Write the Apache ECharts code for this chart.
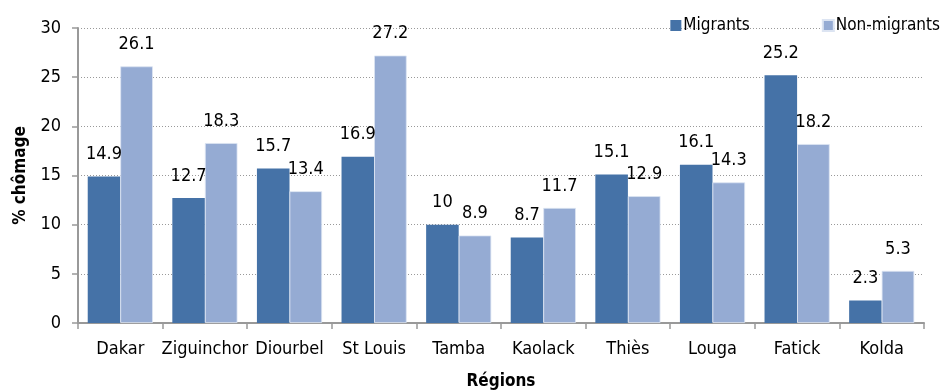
<!DOCTYPE html>
<html><head><meta charset="utf-8">
<script src="https://cdn.jsdelivr.net/npm/echarts@6/dist/echarts.min.js"></script>
<style>html,body{margin:0;padding:0;background:#fff}#c{width:947px;height:390px}</style>
</head><body><div id="c"></div>
<script>
const categories = ['Dakar','Ziguinchor','Diourbel','St Louis','Tamba','Kaolack','Thiès','Louga','Fatick','Kolda'];
const migrants = [14.9,12.7,15.7,16.9,10,8.7,15.1,16.1,25.2,2.3];
const nonMigrants = [26.1,18.3,13.4,27.2,8.9,11.7,12.9,14.3,18.2,5.3];
const seriesNames = ['Migrants','Non-migrants'];
const yTicks = {min:0,max:30,interval:5};
const FONT = '"DejaVu Sans Condensed","Liberation Sans Narrow","Liberation Sans",Arial,sans-serif';
const chart = echarts.init(document.getElementById('c'), null, {renderer:'canvas'});
chart.setOption({
  animation:false,
  textStyle:{fontFamily:FONT},
  grid:{left:78,right:23,top:28,bottom:67,containLabel:false,outerBoundsMode:'none'},
  legend:{
    data:seriesNames, right:2, top:12, itemWidth:11, itemHeight:11, itemGap:72,
    icon:'rect',
    textStyle:{fontFamily:FONT,fontSize:17,color:'#000',padding:[0,0,0,-3]}
  },
  xAxis:{
    type:'category', data:categories,
    name:'Régions', nameLocation:'middle', nameGap:50,
    nameTextStyle:{fontFamily:FONT,fontSize:17,fontWeight:'bold',color:'#000'},
    axisLine:{lineStyle:{color:'#999',width:2}},
    axisTick:{show:true,length:6,lineStyle:{color:'#999',width:1.5}},
    axisLabel:{interval:0,fontFamily:FONT,fontSize:18,color:'#000',margin:17}
  },
  yAxis:{
    type:'value', min:yTicks.min, max:yTicks.max, interval:yTicks.interval,
    name:'% chômage', nameLocation:'middle', nameGap:45, nameRotate:90,
    nameTextStyle:{fontFamily:FONT,fontSize:17,fontWeight:'bold',color:'#000'},
    axisLine:{show:true,lineStyle:{color:'#999',width:2}},
    axisTick:{show:true,length:6,lineStyle:{color:'#999',width:1.5}},
    axisLabel:{fontFamily:FONT,fontSize:18,color:'#000',margin:17},
    splitLine:{show:true,lineStyle:{color:'#999',type:[1,2],width:1}}
  },
  series:[
    {name:seriesNames[0],type:'bar',data:migrants,barGap:'0%',barCategoryGap:'23%',
     itemStyle:{color:'#4572A7'},
     label:{show:true,position:'top',distance:13,fontFamily:FONT,fontSize:18,color:'#000'}},
    {name:seriesNames[1],type:'bar',data:nonMigrants,
     itemStyle:{color:'#95ABD3',borderColor:'#DCE4F2',borderWidth:0.8},
     label:{show:true,position:'top',distance:13,fontFamily:FONT,fontSize:18,color:'#000'}}
  ]
});
</script></body></html>
